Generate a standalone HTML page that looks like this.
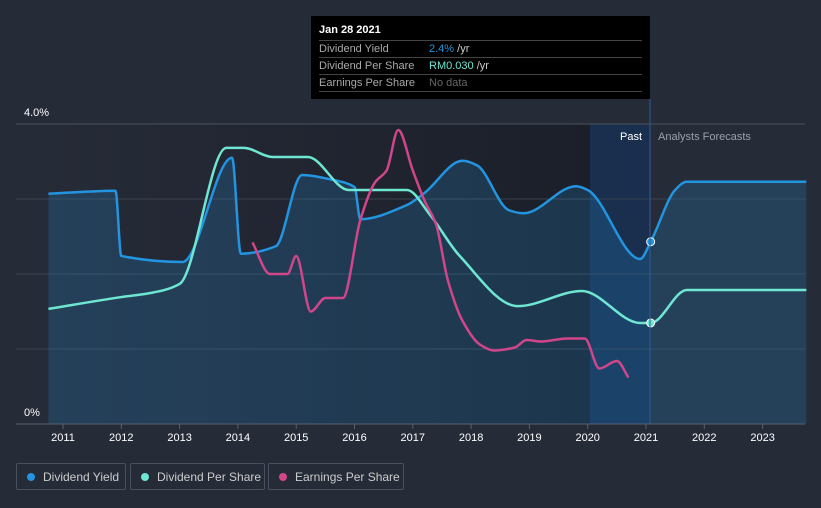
<!DOCTYPE html>
<html><head><meta charset="utf-8">
<style>
body{margin:0;background:#262b38;font-family:"Liberation Sans",sans-serif;}
#wrap{position:relative;width:821px;height:508px;overflow:hidden;background:#262b38;}
svg{position:absolute;left:0;top:0;}
.tt{position:absolute;left:311px;top:16px;width:339px;height:83px;background:#000;color:#fff;font-size:11px;}
.tt .row{position:absolute;left:8px;width:323px;border-top:1px solid #444;height:16px;line-height:16px;color:#aaa;}
.tt .v{position:absolute;left:110px;}
.leg{position:absolute;top:463px;height:27px;border:1px solid #4a5060;border-radius:2px;color:#ccc;font-size:12px;line-height:27px;box-sizing:border-box;}
.leg i{display:inline-block;width:8px;height:8px;border-radius:50%;margin:0 8px 0 10px;}
</style></head><body>
<div id="wrap">
<svg id="svg" width="821" height="508">
<defs>
<linearGradient id="past" x1="0" x2="1" y1="0" y2="0"><stop offset="0" stop-color="#262b38"/><stop offset="1" stop-color="#1b1f29"/></linearGradient>
</defs>
<rect x="48" y="124" width="542" height="300" fill="url(#past)"/>
<rect x="590" y="124" width="60" height="300" fill="#1a3050" opacity="0.9"/>
<g id="grid"></g>
<g id="series"></g>
<line x1="650" y1="99" x2="650" y2="424" stroke="#2d5d9a" stroke-width="1"/>
<text x="24" y="116" fill="#fff" font-size="11">4.0%</text>
<text x="24" y="416" fill="#fff" font-size="11">0%</text>
<text x="642" y="140" fill="#fff" font-size="11" text-anchor="end">Past</text>
<text x="658" y="140" fill="#9aa0ab" font-size="11">Analysts Forecasts</text>
<g id="xaxis"></g>
</svg>
<div class="tt">
<div style="position:absolute;left:8px;top:8px;font-weight:bold;font-size:11px">Jan 28 2021</div>
<div class="row" style="top:24px">Dividend Yield<span class="v"><span style="color:#2394df">2.4%</span> <span style="color:#ccc">/yr</span></span></div>
<div class="row" style="top:41px">Dividend Per Share<span class="v"><span style="color:#6ee6d2">RM0.030</span> <span style="color:#ccc">/yr</span></span></div>
<div class="row" style="top:58px;height:16px;border-bottom:1px solid #444">Earnings Per Share<span class="v" style="color:#666">No data</span></div>
</div>
<div class="leg" style="left:16px;width:110px"><i style="background:#2394df"></i>Dividend Yield</div>
<div class="leg" style="left:130px;width:135px"><i style="background:#6ee6d2"></i>Dividend Per Share</div>
<div class="leg" style="left:268px;width:136px"><i style="background:#d0468a"></i>Earnings Per Share</div>
</div>
<script>
const years=[2011,2012,2013,2014,2015,2016,2017,2018,2019,2020,2021,2022,2023];
const yieldX=[2010.75,2011.9,2012.0,2013.05,2013.9,2014.05,2014.65,2015.1,2015.6,2016.0,2016.1,2016.9,2017.2,2017.85,2018.1,2018.65,2018.9,2019.8,2020.0,2020.9,2021.08,2021.5,2021.7,2023.75];
const yieldV=[3.07,3.11,2.24,2.16,3.55,2.27,2.37,3.32,3.26,3.16,2.73,2.92,3.08,3.51,3.45,2.85,2.81,3.17,3.12,2.20,2.43,3.12,3.23,3.23];
const dpsX=[2010.75,2012.0,2012.5,2013.0,2013.8,2014.1,2014.6,2015.2,2015.9,2016.9,2017.3,2017.8,2018.8,2019.9,2020.9,2021.08,2021.7,2023.75];
const dpsV=[0.0342,0.0377,0.0389,0.0416,0.0820,0.0820,0.0793,0.0793,0.0695,0.0695,0.0620,0.0500,0.0350,0.0395,0.0300,0.0300,0.0398,0.0398];
const epsX=[2014.25,2014.55,2014.85,2015.0,2015.25,2015.5,2015.8,2016.1,2016.35,2016.55,2016.75,2017.0,2017.2,2017.4,2017.6,2017.85,2018.15,2018.4,2018.75,2018.95,2019.2,2019.65,2019.95,2020.2,2020.5,2020.7];
const epsV=[0.121,0.100,0.100,0.112,0.075,0.084,0.084,0.136,0.161,0.169,0.196,0.169,0.149,0.133,0.096,0.069,0.053,0.049,0.051,0.056,0.055,0.057,0.057,0.037,0.042,0.031];
const NS='http://www.w3.org/2000/svg';
const xs=t=>63+(t-2011)*58.3;
const yY=v=>424-v*75, yD=v=>424-v*3367, yE=v=>424-v*1500;
function path(px,py){ // monotone cubic (harmonic-mean tangents)
  const n=px.length,d=[],m=[];
  for(let i=0;i<n-1;i++)d.push((py[i+1]-py[i])/(px[i+1]-px[i]));
  for(let i=0;i<n;i++){
    if(i==0)m.push(d[0]);else if(i==n-1)m.push(d[n-2]);
    else m.push(d[i-1]*d[i]<=0?0:2*d[i-1]*d[i]/(d[i-1]+d[i]));
  }
  let s=`M${px[0]},${py[0]}`;
  for(let i=0;i<n-1;i++){const h=(px[i+1]-px[i])/3;
    s+=`C${px[i]+h},${py[i]+m[i]*h} ${px[i+1]-h},${py[i+1]-m[i+1]*h} ${px[i+1]},${py[i+1]}`;}
  return s;
}
const g=document.getElementById('grid');
[124,199,274,349].forEach((y,i)=>{const l=document.createElementNS(NS,'line');
l.setAttribute('x1',16);l.setAttribute('x2',805);l.setAttribute('y1',y);l.setAttribute('y2',y);
l.setAttribute('stroke',i==0?'#4a5060':'#3a404e');

g.appendChild(l);});
const s=document.getElementById('series');
function add(d,attrs,name){const p=document.createElementNS(NS,'path');p.setAttribute('d',d);
for(const k in attrs)p.setAttribute(k,attrs[k]);

s.appendChild(p);}
const yp=path(yieldX.map(xs),yieldV.map(yY));
add(yp+`L${xs(yieldX[yieldX.length-1])},424L${xs(yieldX[0])},424Z`,{fill:'#2394df',opacity:'0.2'},'dividend-yield-area');
add(yp,{fill:'none',stroke:'#2394df','stroke-width':2.5},'dividend-yield-line');
add(path(dpsX.map(xs),dpsV.map(yD)),{fill:'none',stroke:'#6ee6d2','stroke-width':2.5},'dividend-per-share-line');
add(path(epsX.map(xs),epsV.map(yE)),{fill:'none',stroke:'#d0468a','stroke-width':2.5},'earnings-per-share-line');
function dot(x,y,c,name){const e=document.createElementNS(NS,'circle');e.setAttribute('cx',x);e.setAttribute('cy',y);e.setAttribute('r',4);
e.setAttribute('fill',c);e.setAttribute('stroke','#fff');e.setAttribute('stroke-width',1);

s.appendChild(e);}
dot(xs(yieldX[20]),yY(yieldV[20]),'#2394df','dividend-yield-marker');
dot(xs(dpsX[15]),yD(dpsV[15]),'#6ee6d2','dividend-per-share-marker');
const xa=document.getElementById('xaxis');
const bl=document.createElementNS(NS,'line');bl.setAttribute('x1',16);bl.setAttribute('x2',805);bl.setAttribute('y1',424);bl.setAttribute('y2',424);bl.setAttribute('stroke','#5a6070');

xa.appendChild(bl);
years.forEach(yr=>{const x=xs(yr);
const t=document.createElementNS(NS,'line');t.setAttribute('x1',x);t.setAttribute('x2',x);t.setAttribute('y1',424);t.setAttribute('y2',429);t.setAttribute('stroke','#5a6070');

xa.appendChild(t);
const l=document.createElementNS(NS,'text');l.setAttribute('x',x);l.setAttribute('y',441);l.setAttribute('fill','#fff');l.setAttribute('font-size',11);l.setAttribute('text-anchor','middle');l.textContent=yr;

xa.appendChild(l);});
</script>
</body></html>
